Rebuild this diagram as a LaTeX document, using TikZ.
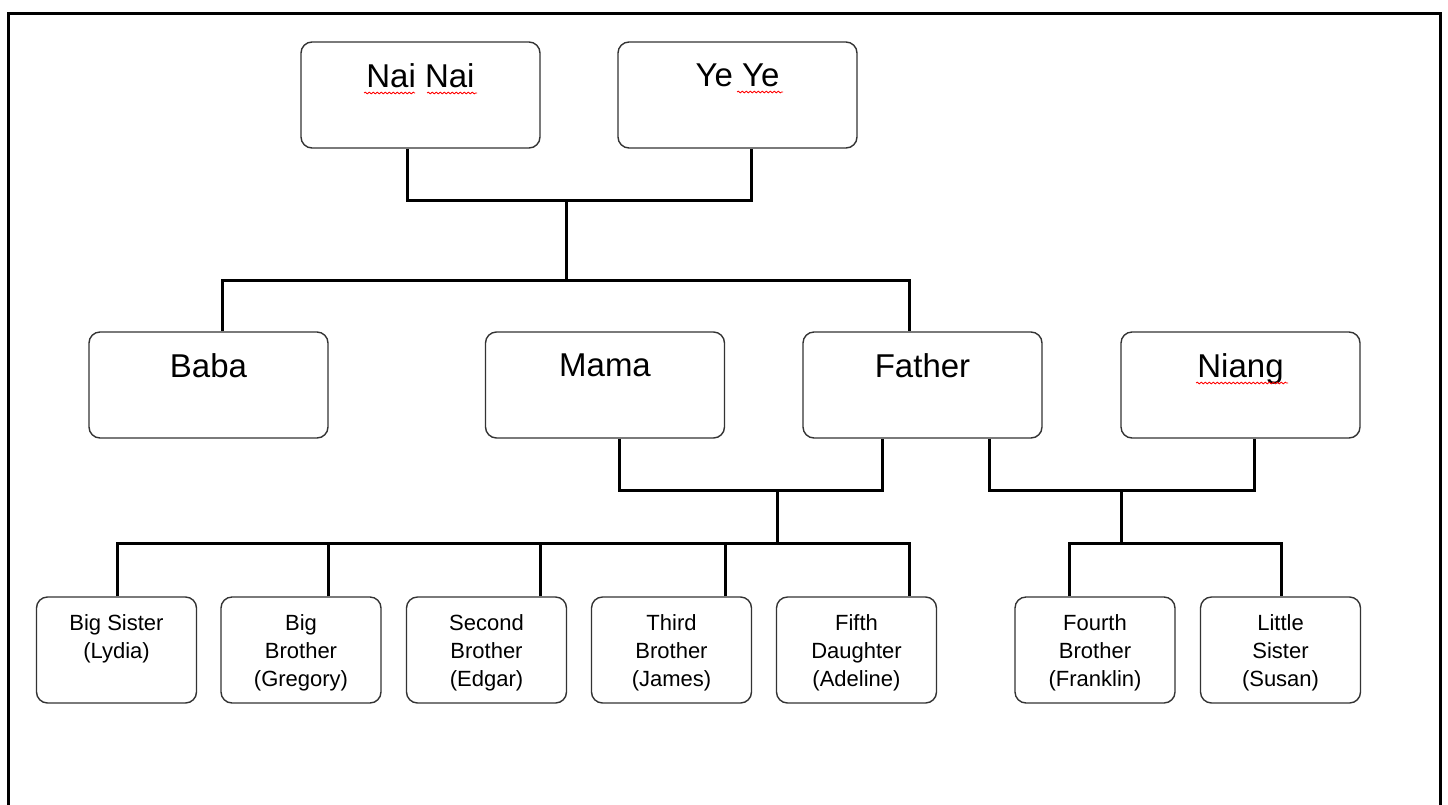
\documentclass[tikz,border=0pt]{standalone}
\usepackage{fontspec}
\setmainfont{Liberation Sans}
\usetikzlibrary{decorations.pathmorphing}
\begin{document}
\begin{tikzpicture}[x=1pt,y=-1pt,
 box/.style={draw=black!80, line width=1.4pt, rounded corners=11pt, inner sep=0pt},
 bigbox/.style={box, minimum width=239pt, minimum height=106pt},
 smallbox/.style={box, minimum width=160pt, minimum height=106pt},
 bigtxt/.style={anchor=north, inner sep=0pt, yshift=-22pt, font=\fontsize{33}{40}\selectfont},
 smalltxt/.style={anchor=north, inner sep=0pt, yshift=-18pt, align=center, font=\fontsize{22}{28}\selectfont},
 conn/.style={line width=3pt, line join=miter},
 wavy/.style={red, line width=0.8pt, decorate, decoration={snake, amplitude=0.9pt, segment length=4pt}}
]
\useasboundingbox (0,0) rectangle (1448,804);
\clip (0,0) rectangle (1448,804);
\draw[line width=3pt] (8,830) -- (8,13) -- (1440,13) -- (1440,830);

% top row
\node[bigbox, label={[bigtxt]north:Nai Nai}] (nainai) at (420.5,95) {};
\node[bigbox, label={[bigtxt]north:Ye Ye}] (yeye) at (737.5,95) {};
% middle row
\node[bigbox, label={[bigtxt]north:Baba}] (baba) at (208.5,385) {};
\node[bigbox, label={[bigtxt]north:Mama}] (mama) at (605,385) {};
\node[bigbox, label={[bigtxt]north:Father}] (father) at (922.5,385) {};
\node[bigbox, label={[bigtxt]north:Niang}] (niang) at (1240.5,385) {};
% bottom row
\node[smallbox, label={[smalltxt]north:{Big Sister\\(Lydia)}}] (bs) at (116.5,650) {};
\node[smallbox, label={[smalltxt]north:{Big\\Brother\\(Gregory)}}] (bb) at (301,650) {};
\node[smallbox, label={[smalltxt]north:{Second\\Brother\\(Edgar)}}] (sb) at (486.5,650) {};
\node[smallbox, label={[smalltxt]north:{Third\\Brother\\(James)}}] (tb) at (671.5,650) {};
\node[smallbox, label={[smalltxt]north:{Fifth\\Daughter\\(Adeline)}}] (fd) at (856.5,650) {};
\node[smallbox, label={[smalltxt]north:{Fourth\\Brother\\(Franklin)}}] (fb) at (1095,650) {};
\node[smallbox, label={[smalltxt]north:{Little\\Sister\\(Susan)}}] (ls) at (1280.5,650) {};

% spell-check underlines
\draw[wavy] (364,93) -- (415,93);
\draw[wavy] (427,93) -- (477,93);
\draw[wavy] (737,92) -- (783,92);
\draw[wavy] (1196,383) -- (1288,383);

% junctions
\coordinate (j1) at (566,200);
\coordinate (j2) at (566,280);
\coordinate (j3) at (777,490);
\coordinate (j4) at (777,543);
\coordinate (j5) at (1121,490);
\coordinate (j6) at (1121,543);

% connectors
\draw[conn] ([xshift=-13.5pt]nainai.south) |- (j1) -| ([xshift=13.5pt]yeye.south);
\draw[conn] (j1) -- (j2);
\draw[conn] ([xshift=13.5pt]baba.north) |- (j2) -| ([xshift=-13.5pt]father.north);

\draw[conn] ([xshift=14pt]mama.south) |- (j3) -| ([xshift=-40.5pt]father.south);
\draw[conn] (j3) -- (j4);
\draw[conn] ([xshift=0.5pt]bs.north) |- (j4) -| ([xshift=52.5pt]fd.north);
\draw[conn] ([xshift=27pt]bb.north) -- ++(0,-54);
\draw[conn] ([xshift=53.5pt]sb.north) -- ++(0,-54);
\draw[conn] ([xshift=53.5pt]tb.north) -- ++(0,-54);

\draw[conn] ([xshift=66.5pt]father.south) |- (j5) -| ([xshift=13.5pt]niang.south);
\draw[conn] (j5) -- (j6);
\draw[conn] ([xshift=-26pt]fb.north) |- (j6) -| ([xshift=0.5pt]ls.north);
\end{tikzpicture}
\end{document}
